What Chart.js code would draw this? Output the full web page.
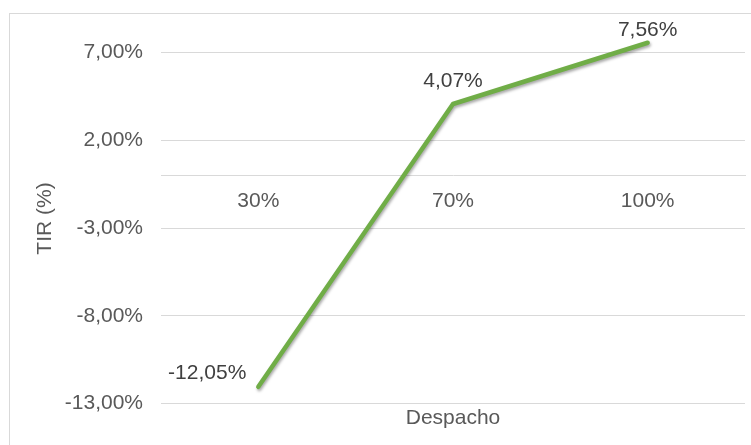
<!DOCTYPE html>
<html>
<head>
<meta charset="utf-8">
<script src="https://cdn.jsdelivr.net/npm/chart.js@4/dist/chart.umd.min.js"></script>
<style>
  html, body { margin: 0; padding: 0; background: #fff; overflow: hidden; }
  #wrap { position: relative; width: 751px; height: 445px; }
  #frame { position: absolute; left: 9px; top: 13px; width: 800px; height: 500px; border: 1px solid #d9d9d9; box-sizing: border-box; }
  canvas { position: absolute; left: 0; top: 0; }
</style>
</head>
<body>
<div id="wrap">
  <div id="frame"></div>
  <canvas id="chart" width="751" height="445"></canvas>
</div>
<script>
// data
const categories = ['30%', '70%', '100%'];
const tirValues = [-12.05, 4.07, 7.56];
const yTicks = [-13, -8, -3, 2, 7];

const fmt = v => v.toFixed(2).replace('.', ',') + '%';
const fontFamily = '"Liberation Sans", Arial, sans-serif';

// how each value label sits next to its point (Excel put the first one to the left)
const labelPlacement = [
    { dx: -12, dy: -14, align: 'right' },
    { dx: 0, dy: -23, align: 'center' },
    { dx: 0, dy: -13, align: 'center' }
];

const lineShadow = {
    id: 'lineShadow',
    beforeDatasetsDraw(chart) {
        const ctx = chart.ctx;
        ctx.save();
        ctx.shadowColor = 'rgba(0,0,0,0.35)';
        ctx.shadowBlur = 3;
        ctx.shadowOffsetX = 1;
        ctx.shadowOffsetY = 2;
    },
    afterDatasetsDraw(chart) {
        chart.ctx.restore();
    }
};

const valueLabels = {
    id: 'valueLabels',
    afterDraw(chart) {
        const ctx = chart.ctx;
        const meta = chart.getDatasetMeta(0);
        ctx.save();
        ctx.font = '21px ' + fontFamily;
        ctx.fillStyle = '#404040';
        ctx.textBaseline = 'middle';
        meta.data.forEach((pt, i) => {
            const p = labelPlacement[i];
            ctx.textAlign = p.align;
            ctx.fillText(fmt(tirValues[i]), pt.x + p.dx, pt.y + p.dy);
        });
        // y axis title, sits a bit below the plot's middle like in Excel
        const area = chart.chartArea;
        ctx.translate(45, (area.top + area.bottom) / 2 + 8);
        ctx.rotate(-Math.PI / 2);
        ctx.textAlign = 'center';
        ctx.fillStyle = '#595959';
        ctx.fillText('TIR (%)', 0, 0);
        ctx.restore();
    }
};

const tickFont = { family: fontFamily, size: 21 };

new Chart(document.getElementById('chart'), {
    type: 'line',
    data: {
        labels: categories,
        datasets: [{
            data: tirValues,
            borderColor: '#70AD47',
            borderWidth: 4.5,
            borderCapStyle: 'round',
            borderJoinStyle: 'round',
            pointRadius: 0,
            tension: 0,
            fill: false,
            clip: false
        }]
    },
    options: {
        responsive: false,
        animation: false,
        devicePixelRatio: 1,
        layout: { padding: { left: 0, right: 6, top: 17.5, bottom: 0 } },
        plugins: {
            legend: { display: false },
            tooltip: { enabled: false }
        },
        scales: {
            x: {
                type: 'category',
                position: { y: 0 },
                offset: true,
                grid: { display: false, drawTicks: false },
                border: { display: true, color: '#d9d9d9', width: 1 },
                ticks: { color: '#595959', font: tickFont, padding: 13 }
            },
            x2: {
                type: 'category',
                position: 'bottom',
                labels: categories,
                grid: { display: false, drawTicks: false },
                border: { display: false },
                ticks: { display: false },
                title: {
                    display: true,
                    text: 'Despacho',
                    color: '#595959',
                    font: tickFont,
                    padding: { top: 0, bottom: 14 }
                },
                afterFit: s => { s.height = 41.5; s.paddingLeft = 0; s.paddingRight = 0; }
            },
            y: {
                min: -13,
                max: 9,
                grid: { color: '#d9d9d9', lineWidth: 1, drawTicks: false },
                border: { display: false },
                afterBuildTicks: s => { s.ticks = yTicks.map(v => ({ value: v })); },
                ticks: {
                    color: '#595959',
                    font: tickFont,
                    padding: 18,
                    callback: v => fmt(v)
                },
                afterFit: s => { s.width = 161; s.paddingTop = 0; s.paddingBottom = 0; }
            }
        }
    },
    plugins: [lineShadow, valueLabels]
});
</script>
</body>
</html>
